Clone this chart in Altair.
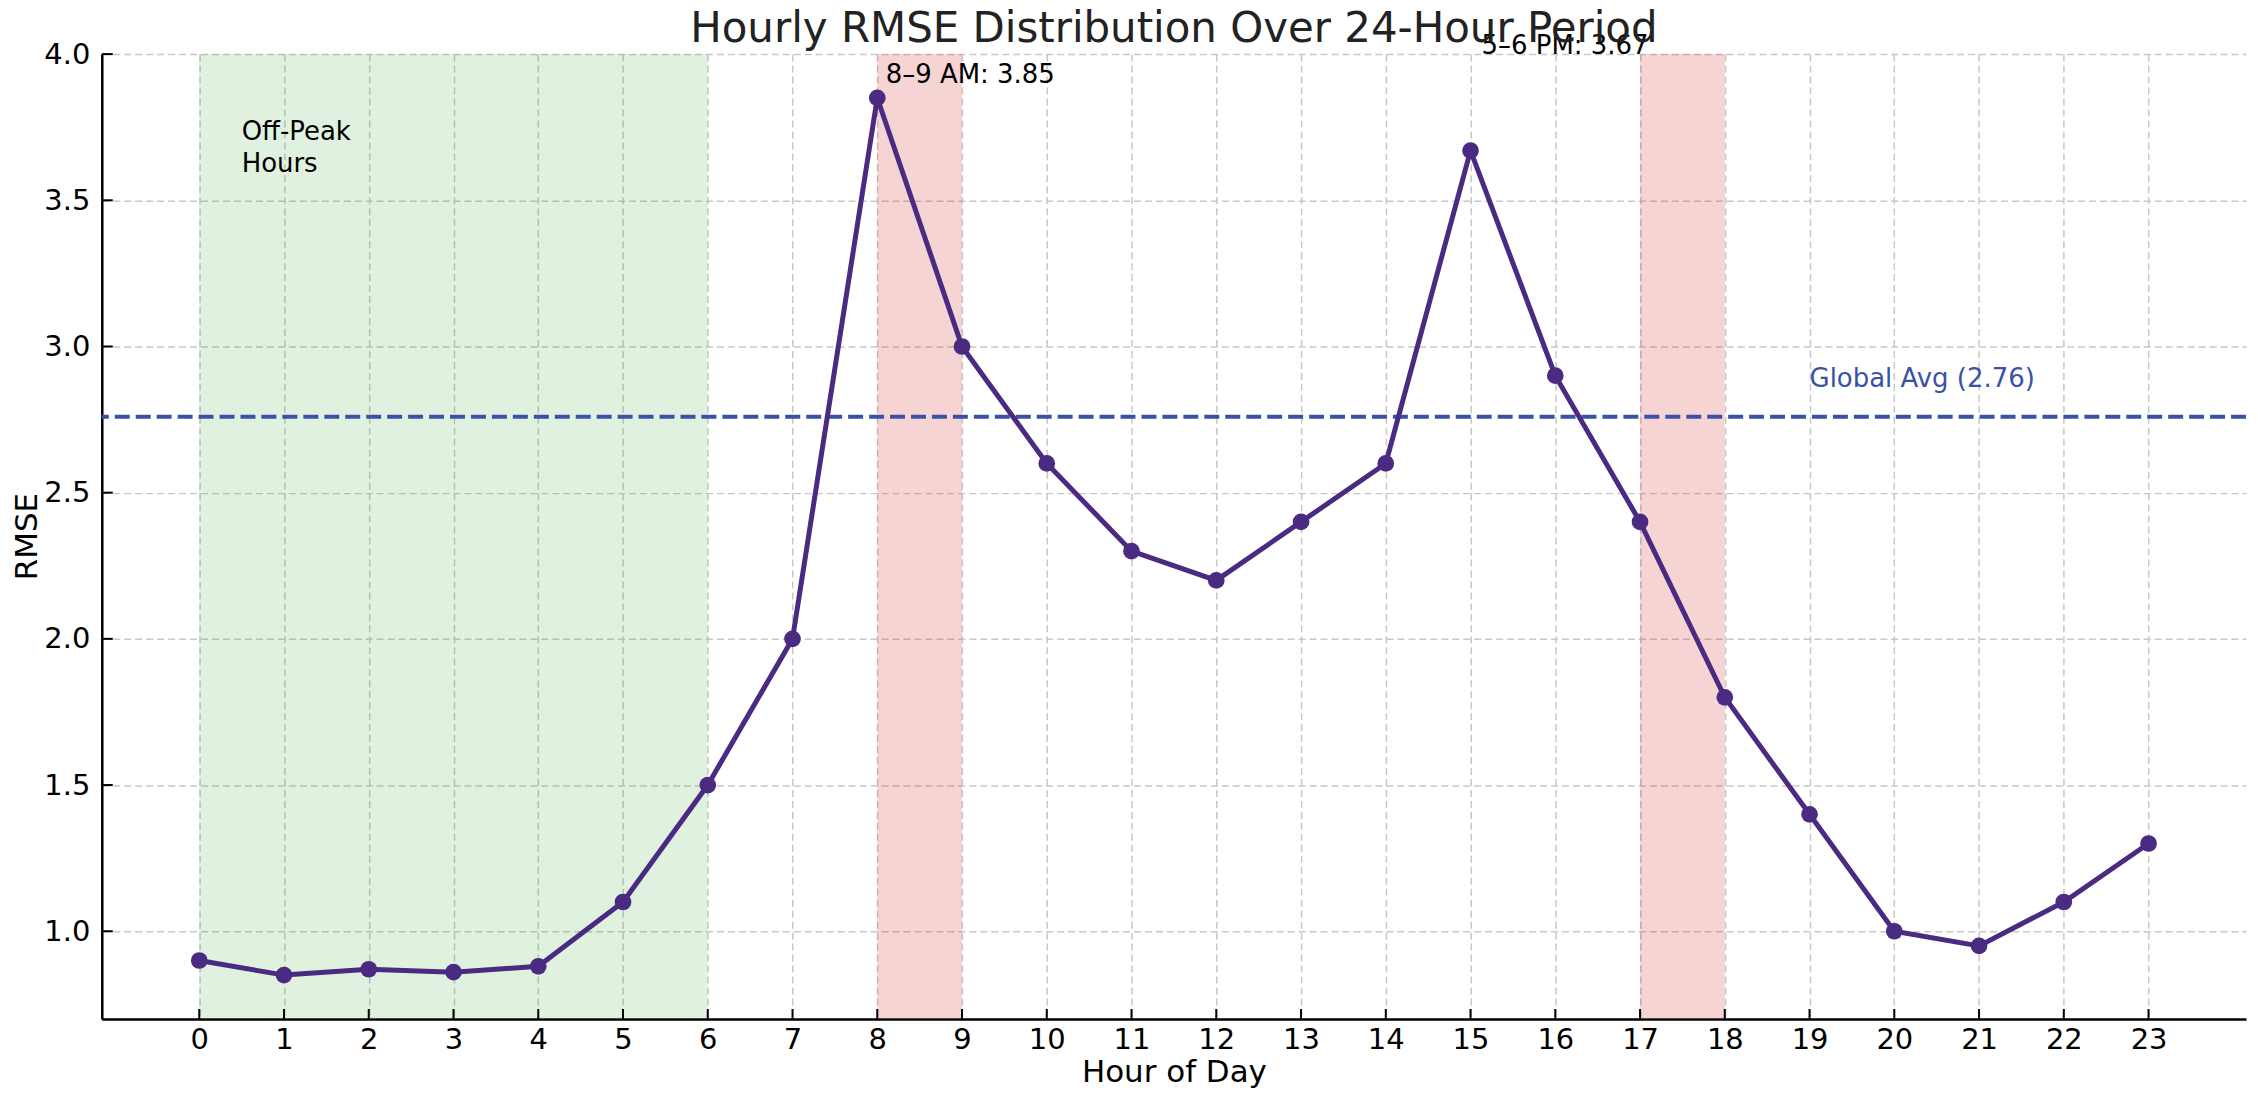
import altair as alt
import pandas as pd

# ---- data ----
hours = list(range(24))
rmse = [0.90, 0.85, 0.87, 0.86, 0.88, 1.10, 1.50, 2.00, 3.85, 3.00, 2.60, 2.30,
        2.20, 2.40, 2.60, 3.67, 2.90, 2.40, 1.80, 1.40, 1.00, 0.95, 1.10, 1.30]
x_tick_values = hours
y_tick_values = [1.0, 1.5, 2.0, 2.5, 3.0, 3.5, 4.0]
x_domain = [-1.15, 24.15]
y_domain = [0.70, 4.00]

span_start = [0, 8, 17]
span_end = [6, 9, 18]
span_color = ["#2ca02c", "#d62728", "#d62728"]
span_alpha = [0.15, 0.2, 0.2]

global_avg = [2.76]

ann_text = ["8–9 AM: 3.85", "5–6 PM: 3.67", "Global Avg (2.76)", "Off-Peak\nHours"]
ann_x = [8.1, 15.13, 19.0, 0.5]
ann_y = [3.90, 4.00, 2.86, 3.707]
ann_color = ["black", "black", "#3a52a6", "black"]

FONT = "DejaVu Sans"
LINE_COLOR = "#4b2a81"
PLOT_W, PLOT_H = 2149, 967

line_df = pd.DataFrame({"hour": hours, "rmse": rmse})
span_df = pd.DataFrame({"hour": span_start, "end": span_end,
                        "color": span_color, "alpha": span_alpha})
avg_df = pd.DataFrame({"rmse": global_avg})
ann_df = pd.DataFrame({"hour": ann_x, "rmse": ann_y, "text": ann_text, "color": ann_color})
xt_df = pd.DataFrame({"hour": x_tick_values})
yt_df = pd.DataFrame({"rmse": y_tick_values})

xs = alt.Scale(domain=x_domain, nice=False, zero=False)
ys = alt.Scale(domain=y_domain, nice=False, zero=False)

x_axis = alt.Axis(values=x_tick_values, title="Hour of Day", format="d",
                  labelFontSize=29, titleFontSize=31, labelPadding=7,
                  labelFont=FONT, titleFont=FONT, labelColor="black", titleColor="black",
                  titleFontWeight="normal", titleBaseline="alphabetic", titleY=63,
                  grid=True, gridDash=[7, 4], gridColor="#c8c8c8", gridWidth=1.5,
                  domainColor="black", domainWidth=2.5, tickSize=0,
                  labelFlush=False, labelOverlap=False)
y_axis = alt.Axis(values=y_tick_values, title="RMSE", format=".1f",
                  labelFontSize=29, titleFontSize=31, labelPadding=12,
                  labelFont=FONT, titleFont=FONT, labelColor="black", titleColor="black",
                  titleFontWeight="normal", titleAngle=270, titleBaseline="middle",
                  titleX=-74, titleY=483,
                  grid=True, gridDash=[7, 4], gridColor="#c8c8c8", gridWidth=1.5,
                  domainColor="black", domainWidth=2.5, tickSize=0,
                  labelFlush=False, labelOverlap=False)

X = alt.X("hour:Q", scale=xs, axis=x_axis)
Y = alt.Y("rmse:Q", scale=ys, axis=y_axis)

spans = alt.Chart(span_df).mark_rect().encode(
    x=X,
    x2="end:Q",
    color=alt.Color("color:N", scale=None),
    opacity=alt.Opacity("alpha:Q", scale=None),
)

avg_rule = alt.Chart(avg_df).mark_rule(
    color="#3a52a6", strokeWidth=4, strokeDash=[15, 6]
).encode(y=Y)

line = alt.Chart(line_df).mark_line(color=LINE_COLOR, strokeWidth=5).encode(x=X, y=Y)
points = alt.Chart(line_df).mark_circle(color=LINE_COLOR, size=280, opacity=1).encode(x=X, y=Y)

texts = alt.Chart(ann_df).mark_text(
    font=FONT, fontSize=26, align="left", baseline="alphabetic",
    lineBreak="\n", lineHeight=32
).encode(
    x=X, y=Y,
    text="text:N",
    color=alt.Color("color:N", scale=None),
)

# inward tick marks
xticks = alt.Chart(xt_df).mark_rule(color="black", strokeWidth=2).encode(
    x=X, y=alt.value(PLOT_H), y2=alt.value(PLOT_H - 10),
)
yticks = alt.Chart(yt_df).mark_rule(color="black", strokeWidth=2).encode(
    y=Y, x=alt.value(0), x2=alt.value(11),
)

chart = alt.layer(spans, avg_rule, line, points, texts, xticks, yticks).properties(
    width=PLOT_W, height=PLOT_H,
    title=alt.TitleParams(
        "Hourly RMSE Distribution Over 24-Hour Period",
        fontSize=42, font=FONT, fontWeight="normal", color="#222222",
        anchor="middle", baseline="alphabetic", offset=-51, frame="group",
    ),
    autosize=alt.AutoSizeParams(type="none"),
    padding={"left": 94, "top": 45, "right": 4, "bottom": 70},
).configure_view(stroke=None)

chart.save("out.html", embed_options={"renderer": "svg", "actions": False})
